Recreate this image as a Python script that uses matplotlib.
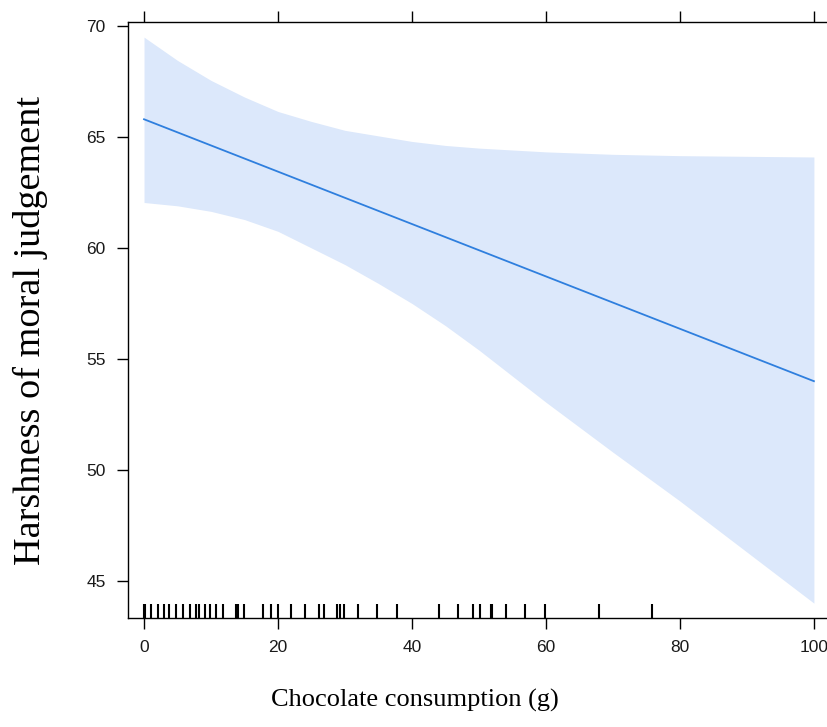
import numpy as np
import matplotlib
matplotlib.use("Agg")
from matplotlib import pyplot as plt
import matplotlib.transforms as mtransforms

# effect of chocolate on moral judgement: fitted line with 95% band
grams = [0, 5, 10, 15, 20, 25, 30, 35, 40, 45, 50, 60, 70, 80, 90, 100]
fit = [65.8, 65.21, 64.62, 64.03, 63.44, 62.85, 62.26, 61.67, 61.08, 60.49,
       59.9, 58.72, 57.54, 56.36, 55.18, 54.0]
upper = [69.5, 68.45, 67.55, 66.8, 66.15, 65.7, 65.3, 65.05, 64.8, 64.62,
         64.5, 64.33, 64.22, 64.16, 64.13, 64.1]
lower = [62.05, 61.9, 61.65, 61.28, 60.75, 60.0, 59.25, 58.4, 57.5, 56.5,
         55.4, 53.05, 50.8, 48.6, 46.3, 44.0]

# observed consumption values (rug)
rug = [0, 0.2, 1.1, 2.1, 3.0, 3.8, 4.8, 5.8, 6.8, 7.8, 8.2, 9.1, 9.8, 10.8, 11.8,
       13.8, 14.1, 14.9, 17.8, 19.0, 20.0, 22.0, 24.0, 26.1, 26.9, 28.8, 29.2,
       29.9, 32.0, 34.8, 37.8, 44.0, 46.8, 49.1, 50.1, 51.8, 52.0, 54.1, 56.9,
       59.9, 67.9, 75.8]

xticks = [0, 20, 40, 60, 80, 100]
yticks = [45, 50, 55, 60, 65, 70]


def main():
    fig = plt.figure(figsize=(8.28, 7.27), dpi=100)
    ax = fig.add_axes([0.1546, 0.1499, 1.0024 - 0.1546, 0.9697 - 0.1499])

    ax.fill_between(grams, lower, upper, color="#dce8fb", linewidth=0)
    ax.plot(grams, fit, color="#2f7fde", linewidth=1.3)

    trans = mtransforms.blended_transform_factory(ax.transData, ax.transAxes)
    ax.vlines(rug, 0, 0.024, transform=trans, color="black", linewidth=1.5)

    ax.set_xlim(-2.39, 102.4)
    ax.set_ylim(43.33, 70.18)

    ax.set_xticks(xticks)
    ax.set_yticks(yticks)
    ax.tick_params(axis="both", direction="out", length=8, width=1,
                   labelsize=12.5, pad=8)
    ax.tick_params(axis="x", top=True, labeltop=False)
    for lab in ax.get_xticklabels() + ax.get_yticklabels():
        lab.set_family("Liberation Sans")
        lab.set_color("#1a1a1a")
    for s in ax.spines.values():
        s.set_linewidth(1.0)

    fig.text(0.5015, 0.037, "Chocolate consumption (g)", ha="center", va="center",
             family="Liberation Serif", fontsize=19)
    fig.text(0.037, 0.546, "Harshness of moral judgement", ha="center", va="center",
             rotation=90, family="Liberation Serif", fontsize=27.5)

    fig.savefig("out.png", dpi=100)


if __name__ == "__main__":
    main()
